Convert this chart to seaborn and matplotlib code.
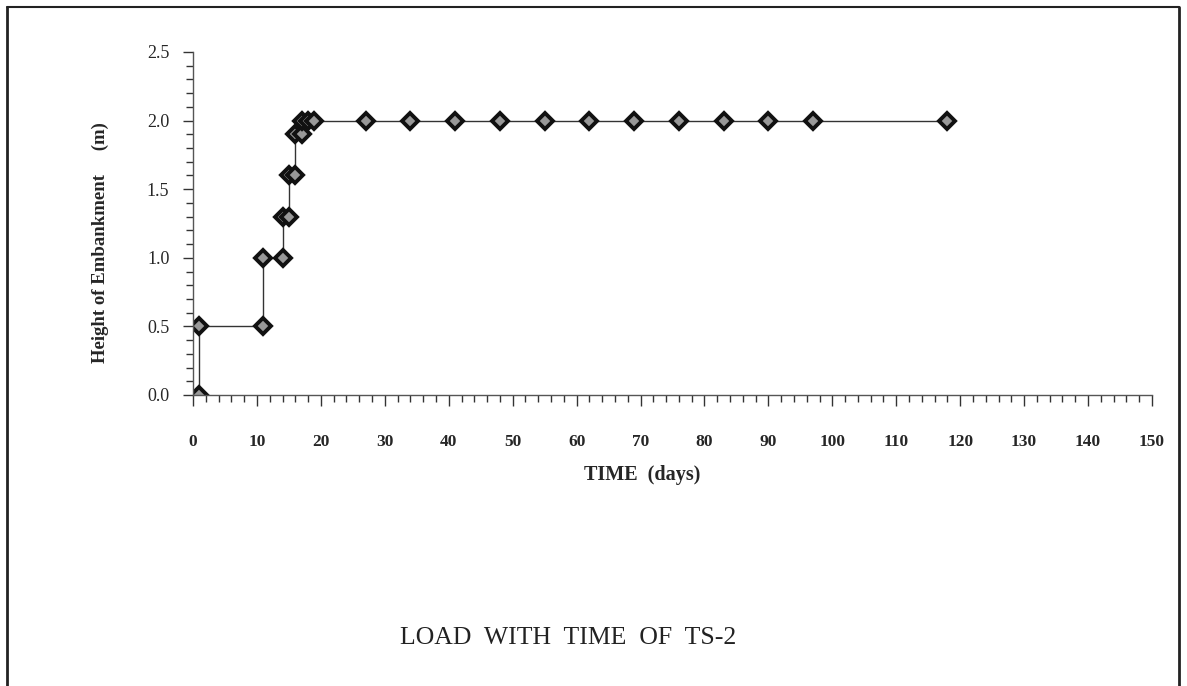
import matplotlib
matplotlib.use("Agg")
import matplotlib.pyplot as plt
import seaborn as sns
import pandas as pd
from matplotlib.ticker import MultipleLocator
from matplotlib.lines import Line2D

days = [1, 1, 11, 11, 14, 14, 15, 15, 16, 16, 17, 17, 18, 19, 27, 34, 41, 48, 55, 62, 69, 76, 83, 90, 97, 118]
height = [0.0, 0.5, 0.5, 1.0, 1.0, 1.3, 1.3, 1.6, 1.6, 1.9, 1.9, 2.0, 2.0, 2.0, 2.0, 2.0, 2.0, 2.0, 2.0, 2.0, 2.0, 2.0, 2.0, 2.0, 2.0, 2.0]
x_ticks = list(range(0, 151, 10))
y_ticks = [0.0, 0.5, 1.0, 1.5, 2.0, 2.5]

df = pd.DataFrame({"TIME": days, "Height": height})

sns.set_theme(style="white")
plt.rcParams['font.family'] = ['Liberation Serif', 'DejaVu Serif']

fig = plt.figure(figsize=(11.87, 6.86), dpi=100)
ax = fig.add_axes([0.1626, 0.4242, 0.8079, 0.5])

sns.lineplot(data=df, x="TIME", y="Height", sort=False, estimator=None, ax=ax,
             color="#333333", linewidth=1.0, marker="D", markersize=8,
             markerfacecolor="#999999", markeredgecolor="#111111", markeredgewidth=2.8)

ax.set_xlim(0, 150)
ax.set_ylim(0, 2.5)
ax.set_xticks(x_ticks)
ax.set_yticks(y_ticks)
ax.set_xticklabels([str(v) for v in x_ticks], fontweight="bold", fontsize=12.5)
ax.set_yticklabels([f"{v:.1f}" for v in y_ticks], fontsize=13)
ax.xaxis.set_minor_locator(MultipleLocator(2))
ax.yaxis.set_minor_locator(MultipleLocator(0.1))

for s in ["top", "right"]:
    ax.spines[s].set_visible(False)
for s in ["left", "bottom"]:
    ax.spines[s].set_color("#555555")
    ax.spines[s].set_linewidth(1.0)

ax.tick_params(axis="x", which="major", direction="out", length=8, width=1, color="#333333", pad=20, bottom=True)
ax.tick_params(axis="x", which="minor", direction="out", length=5, width=1, color="#333333", bottom=True)
ax.tick_params(axis="y", which="major", direction="out", length=7, width=1, color="#333333", pad=10, left=True)
ax.tick_params(axis="y", which="minor", direction="out", length=5, width=1, color="#333333", left=True)
ax.grid(False)
ax.set_facecolor("white")

ax.set_xlabel("TIME  (days)", fontweight="bold", fontsize=14.5)
ax.xaxis.set_label_coords(0.468, -0.205)
ax.set_ylabel("Height of Embankment     (m)", fontweight="bold", fontsize=13.5)
ax.yaxis.set_label_coords(-0.088, 0.443)

fig.text(0.479, 1 - 638 / 686, "LOAD  WITH  TIME  OF  TS-2", ha="center", va="center",
         fontsize=18.5, color="#222222")

# figure border (open at bottom)
bx0, bx1, by = 7 / 1187, 1179 / 1187, 1 - 7 / 686
fig.add_artist(Line2D([bx0, bx0], [0, by], transform=fig.transFigure, color="#222222", lw=2))
fig.add_artist(Line2D([bx1, bx1], [0, by], transform=fig.transFigure, color="#222222", lw=2))
fig.add_artist(Line2D([bx0, bx1], [by, by], transform=fig.transFigure, color="#222222", lw=1.5))

fig.savefig("out.png", dpi=100, facecolor="white")
